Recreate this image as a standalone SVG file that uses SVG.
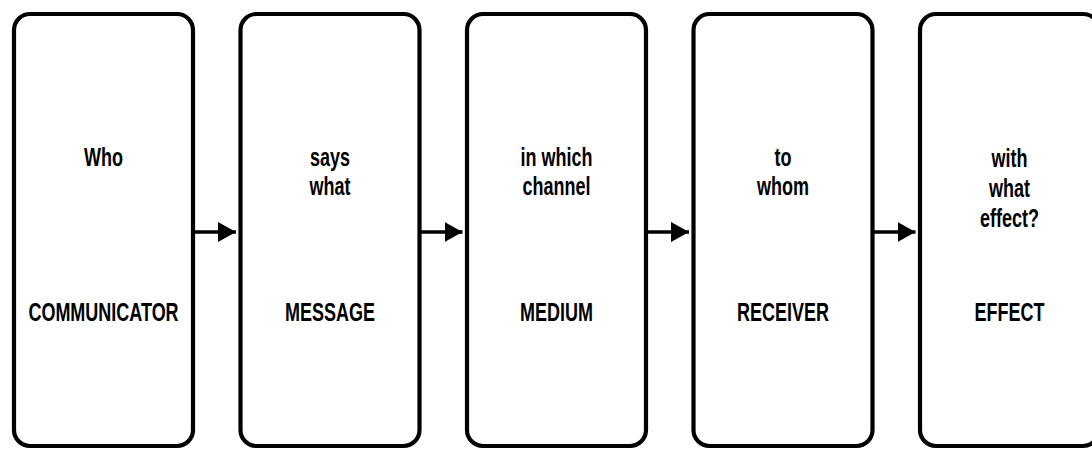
<svg xmlns="http://www.w3.org/2000/svg" width="1092" height="453" viewBox="0 0 1092 453">
<defs>
<style>
.box{fill:#fff;stroke:#000;stroke-width:4.2}
.t{font-family:"Liberation Sans",Arial,sans-serif;font-weight:bold;font-size:25px;fill:#000;text-anchor:middle}
.c{stroke:#000;stroke-width:3.5;fill:none}
</style>
<marker id="ah" markerUnits="userSpaceOnUse" markerWidth="20" markerHeight="22" refX="18" refY="11" orient="auto">
<path d="M0,1 L18,11 L0,21 Z" fill="#000"/>
</marker>
</defs>
<rect width="1092" height="453" fill="#fff"/>
<g id="communicator">
<rect class="box" x="14" y="14" width="179" height="432" rx="16"/>
<g transform="translate(103.5 0) scale(0.72 1)"><text class="t" x="0" y="166">Who</text><text class="t" x="0" y="321">COMMUNICATOR</text></g>
</g>
<g id="message">
<rect class="box" x="240.5" y="14" width="179" height="432" rx="16"/>
<g transform="translate(330 0) scale(0.72 1)"><text class="t" x="0" y="166">says</text><text class="t" x="0" y="195">what</text><text class="t" x="0" y="321">MESSAGE</text></g>
</g>
<g id="medium">
<rect class="box" x="467" y="14" width="179" height="432" rx="16"/>
<g transform="translate(556.5 0) scale(0.72 1)"><text class="t" x="0" y="166">in which</text><text class="t" x="0" y="195">channel</text><text class="t" x="0" y="321">MEDIUM</text></g>
</g>
<g id="receiver">
<rect class="box" x="693.5" y="14" width="179" height="432" rx="16"/>
<g transform="translate(783 0) scale(0.72 1)"><text class="t" x="0" y="166">to</text><text class="t" x="0" y="195">whom</text><text class="t" x="0" y="321">RECEIVER</text></g>
</g>
<g id="effect">
<rect class="box" x="920" y="14" width="179" height="432" rx="16"/>
<g transform="translate(1009.5 0) scale(0.72 1)"><text class="t" x="0" y="167">with</text><text class="t" x="0" y="197">what</text><text class="t" x="0" y="227">effect?</text><text class="t" x="0" y="321">EFFECT</text></g>
</g>
<g id="connectors">
<line class="c" x1="193" y1="232" x2="236" y2="232" marker-end="url(#ah)"/>
<line class="c" x1="419.5" y1="232" x2="462.5" y2="232" marker-end="url(#ah)"/>
<line class="c" x1="646" y1="232" x2="689" y2="232" marker-end="url(#ah)"/>
<line class="c" x1="872.5" y1="232" x2="915.5" y2="232" marker-end="url(#ah)"/>
</g>
</svg>
